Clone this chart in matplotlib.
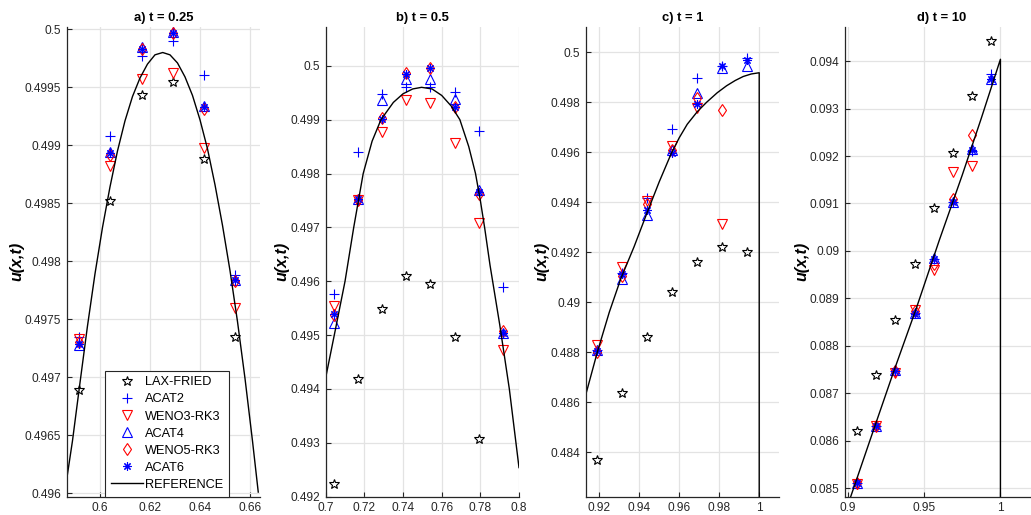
import numpy as np
import matplotlib
matplotlib.use("Agg")
import matplotlib.pyplot as plt
from matplotlib.ticker import FuncFormatter

plt.rcParams['font.family'] = ['Liberation Sans', 'DejaVu Sans']

nan = np.nan
names = ['LAX-FRIED', 'ACAT2', 'WENO3-RK3', 'ACAT4', 'WENO5-RK3', 'ACAT6']

# a) t = 0.25
xa = [0.5917, 0.6042, 0.6167, 0.6292, 0.6417, 0.6542]
lax_a = [0.49689, 0.49852, 0.49943, 0.49955, 0.49888, 0.49735]
acat2_a = [0.49735, 0.49908, 0.49977, 0.49990, 0.49961, 0.49788]
weno3_a = [0.49733, 0.49882, 0.49957, 0.49962, 0.49898, 0.49760]
acat4_a = [0.49728, 0.49894, 0.49985, 0.49998, 0.49934, 0.49784]
weno5_a = [0.49730, 0.49892, 0.49983, 0.49997, 0.49931, 0.49783]
acat6_a = [0.49729, 0.49893, 0.49983, 0.49997, 0.49933, 0.49784]
ref_xa = [0.5867, 0.5890, 0.5920, 0.5950, 0.5980, 0.6010, 0.6040, 0.6070, 0.6100, 0.6130,
          0.6160, 0.6190, 0.6220, 0.6251, 0.6280, 0.6310, 0.6340, 0.6370, 0.6400, 0.6430,
          0.6460, 0.6490, 0.6520, 0.6550, 0.6580, 0.6610, 0.6633]
ref_ya = [0.49612, 0.49645, 0.49695, 0.49744, 0.49789, 0.49829, 0.49864, 0.49895, 0.49921, 0.49942,
          0.49958, 0.49970, 0.49978, 0.49980, 0.49978, 0.49971, 0.49959, 0.49943, 0.49922, 0.49897,
          0.49866, 0.49831, 0.49792, 0.49748, 0.49699, 0.49645, 0.49601]

# b) t = 0.5
xb = [0.7042, 0.7167, 0.7292, 0.7417, 0.7542, 0.7667, 0.7792, 0.7917]
lax_b = [0.49223, 0.49418, 0.49548, 0.49609, 0.49594, 0.49497, 0.49307, nan]
acat2_b = [0.49577, 0.49840, 0.49947, 0.49961, 0.49961, 0.49952, 0.49878, 0.49589]
weno3_b = [0.49554, 0.49751, 0.49877, 0.49937, 0.49930, 0.49857, 0.49709, 0.49472]
acat4_b = [0.49522, 0.49753, 0.49937, 0.49975, 0.49975, 0.49938, 0.49770, 0.49504]
weno5_b = [0.49538, 0.49751, 0.49903, 0.49986, 0.49995, 0.49923, 0.49762, 0.49507]
acat6_b = [0.49540, 0.49752, 0.49902, 0.49985, 0.49995, 0.49924, 0.49765, 0.49504]
ref_xb = [0.7000, 0.7050, 0.7100, 0.7145, 0.7194, 0.7240, 0.7286, 0.7350, 0.7400, 0.7450,
          0.7496, 0.7550, 0.7600, 0.7650, 0.7694, 0.7740, 0.7775, 0.7800, 0.7822, 0.7850,
          0.7900, 0.7950, 0.8000]
ref_yb = [0.49421, 0.49510, 0.49600, 0.49700, 0.49800, 0.49860, 0.49900, 0.49932, 0.49948, 0.49957,
          0.49960, 0.49957, 0.49945, 0.49925, 0.49900, 0.49850, 0.49800, 0.49750, 0.49700, 0.49630,
          0.49520, 0.49400, 0.49254]

# c) t = 1
xc = [0.91875, 0.93125, 0.94375, 0.95625, 0.96875, 0.98125, 0.99375]
lax_c = [0.48369, 0.48636, 0.48862, 0.49040, 0.49162, 0.49220, 0.49200]
acat2_c = [0.48809, 0.49116, 0.49416, 0.49693, 0.49898, 0.49945, 0.49976]
weno3_c = [0.48829, 0.49140, 0.49406, 0.49626, 0.49776, 0.49313, nan]
acat4_c = [0.48809, 0.49092, 0.49349, 0.49609, 0.49838, 0.49938, 0.49946]
weno5_c = [0.48802, 0.49105, 0.49393, 0.49608, 0.49816, 0.49769, nan]
acat6_c = [0.48806, 0.49112, 0.49369, 0.49596, 0.49793, 0.49946, 0.49969]
ref_xc = [0.9132, 0.9190, 0.9250, 0.9308, 0.9374, 0.9440, 0.9500, 0.9560, 0.9600, 0.9640,
          0.9690, 0.9737, 0.9790, 0.9837, 0.9880, 0.9920, 0.9960, 1.0000, 1.0000]
ref_yc = [0.48629, 0.48800, 0.48960, 0.49095, 0.49222, 0.49360, 0.49482, 0.49595, 0.49658, 0.49712,
          0.49762, 0.49800, 0.49838, 0.49866, 0.49887, 0.49903, 0.49913, 0.49918, 0.0]

# d) t = 10
xd = [0.90625, 0.91875, 0.93125, 0.94375, 0.95625, 0.96875, 0.98125, 0.99375]
lax_d = [0.08620, 0.08738, 0.08855, 0.08973, 0.09091, 0.09207, 0.09326, 0.09443]
acat2_d = [0.08510, 0.08631, 0.08747, 0.08869, 0.08984, 0.09103, 0.09211, 0.09373]
weno3_d = [0.08508, 0.08631, 0.08742, 0.08875, 0.08959, 0.09167, 0.09179, nan]
acat4_d = [0.08511, 0.08632, 0.08748, 0.08869, 0.08985, 0.09104, 0.09215, 0.09363]
weno5_d = [0.08510, 0.08632, 0.08746, 0.08874, 0.08973, 0.09109, 0.09244, nan]
acat6_d = [0.08510, 0.08631, 0.08747, 0.08868, 0.08984, 0.09103, 0.09213, 0.09363]
ref_xd = [0.9015, 0.9150, 0.9300, 0.9450, 0.9600, 0.9750, 0.9875, 1.0000, 1.0000]
ref_yd = [0.08478, 0.08605, 0.08745, 0.08880, 0.09023, 0.09160, 0.09280, 0.09404, 0.0]

panels = [
    ('a) t = 0.25', xa, [lax_a, acat2_a, weno3_a, acat4_a, weno5_a, acat6_a], ref_xa, ref_ya,
     (0.5867, 0.6640), (0.49597, 0.50002), np.arange(0.60, 0.661, 0.02), np.arange(0.496, 0.50001, 0.0005)),
    ('b) t = 0.5', xb, [lax_b, acat2_b, weno3_b, acat4_b, weno5_b, acat6_b], ref_xb, ref_yb,
     (0.70, 0.80), (0.492, 0.50072), np.arange(0.70, 0.801, 0.02), np.arange(0.492, 0.50001, 0.001)),
    ('c) t = 1', xc, [lax_c, acat2_c, weno3_c, acat4_c, weno5_c, acat6_c], ref_xc, ref_yc,
     (0.9132, 1.0099), (0.48222, 0.50101), np.arange(0.92, 1.001, 0.02), np.arange(0.484, 0.50001, 0.002)),
    ('d) t = 10', xd, [lax_d, acat2_d, weno3_d, acat4_d, weno5_d, acat6_d], ref_xd, ref_yd,
     (0.8982, 1.0248), (0.08482, 0.09472), np.arange(0.90, 1.001, 0.05), np.arange(0.085, 0.09401, 0.001)),
]

# marker styles (color, marker, size)
styles = [('k', '*', 7.5), ('b', '+', 7), ('r', 'v', 6.5), ('b', '^', 6.5), ('r', 'd', 6), ('b', (8, 2, 0), 6)]

axcol = '#262626'
fig = plt.figure(figsize=(10.31, 5.15), dpi=100)
lefts = [66.7, 325.7, 585.7, 845.0]
fmt = FuncFormatter(lambda v, p: '%g' % round(v, 6))

for i, (title, x, series, rx, ry, xl, yl, xt, yt) in enumerate(panels):
    ax = fig.add_axes([lefts[i] / 1031, 18.3 / 515, 193.3 / 1031, 469.7 / 515])
    for (c, m, ms), ys, name in zip(styles, series, names):
        ax.plot(x, ys, linestyle='none', marker=m, color=c, mec=c, mfc='none',
                ms=ms, mew=0.8, label=name)
    ax.plot(rx, ry, color='k', lw=1.0, label='REFERENCE')
    ax.set_xlim(xl)
    ax.set_ylim(yl)
    ax.set_xticks(xt)
    ax.set_yticks(yt)
    ax.xaxis.set_major_formatter(fmt)
    ax.yaxis.set_major_formatter(fmt)
    ax.grid(True, color='#e3e3e3', lw=0.9)
    ax.set_axisbelow(True)
    for s in ['top', 'right']:
        ax.spines[s].set_visible(False)
    for s in ['left', 'bottom']:
        ax.spines[s].set_color(axcol)
        ax.spines[s].set_linewidth(0.9)
    ax.tick_params(direction='in', length=3.5, width=0.8, colors=axcol, labelsize=8.6,
                   labelcolor=axcol, pad=4)
    ax.set_title(title, fontsize=9.4, fontweight='bold', color='k', pad=4)
    ax.set_ylabel('u(x,t)', fontsize=11.5, fontweight='bold', fontstyle='italic', color='k', labelpad=0.5)
    if i == 0:
        leg = ax.legend(loc='lower left', bbox_to_anchor=(0.198, 0.0), borderaxespad=0,
                        fontsize=9.2, frameon=True, fancybox=False, edgecolor=axcol,
                        handlelength=2.5, handletextpad=0.15, labelspacing=0.4,
                        borderpad=0.45, framealpha=1)
        leg.get_frame().set_linewidth(0.8)

fig.savefig('out.png', dpi=100)
